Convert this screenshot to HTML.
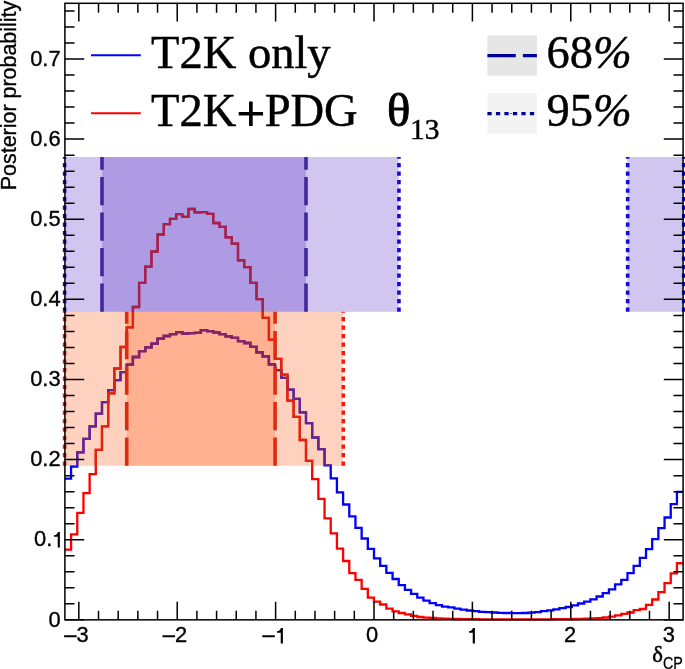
<!DOCTYPE html>
<html><head><meta charset="utf-8"><style>
html,body{margin:0;padding:0;background:#fff}
#c{position:relative;width:685px;height:669px;overflow:hidden;background:#fff;will-change:transform;font-family:"Liberation Sans",sans-serif;color:#000}
.tl{position:absolute;font-size:21.9px;line-height:24px;white-space:nowrap;-webkit-text-stroke:0.35px #000}
.lg{position:absolute;font-family:"Liberation Serif",serif;font-size:46.5px;line-height:50px;white-space:nowrap;-webkit-text-stroke:0.45px #000}
</style></head><body><div id="c">
<svg width="685" height="669" viewBox="0 0 685 669" style="position:absolute;left:0;top:0">
<rect width="685" height="669" fill="#fff"/>
<path d="M64.90 478.60H71.08V466.70H77.26V452.40H83.45V438.90H89.63V426.40H95.81V413.70H101.99V402.20H108.17V390.20H114.36V380.20H120.54V372.10H126.72V364.60H132.90V357.00H139.08V351.10H145.27V347.30H151.45V343.60H157.63V338.60H163.81V336.00H169.99V334.20H176.18V332.10H182.36V333.70H188.54V333.10H194.72V332.80H200.90V330.20H207.09V331.20H213.27V332.30H219.45V334.10H225.63V336.40H231.81V337.90H238.00V341.20H244.18V343.00H250.36V346.90H256.54V352.30H262.72V356.40H268.91V364.30H275.09V370.20H281.27V377.80H287.45V389.60H293.63V398.90H299.82V412.40H306.00V423.20H312.18V437.50H318.36V449.20H324.54V465.40H330.73V478.30H336.91V492.30H343.09V504.50H349.27V516.30H355.45V527.80H361.64V538.50H367.82V548.90H374.00V558.30H380.18V565.80H386.36V572.90H392.55V579.00H398.73V585.10H404.91V589.80H411.09V593.90H417.27V597.60H423.46V600.70H429.64V603.10H435.82V605.20H442.00V606.60H448.18V607.40H454.37V608.60H460.55V609.60H466.73V610.50H472.91V611.20H479.09V611.80H485.28V612.20H491.46V612.50H497.64V612.80H503.82V613.00H510.00V613.10H516.19V613.10H522.37V613.00H528.55V612.60H534.73V612.10H540.91V611.10H547.10V610.40H553.28V609.30H559.46V608.20H565.64V607.00H571.82V605.30H578.01V603.50H584.19V601.60H590.37V599.40H596.55V596.50H602.73V593.10H608.92V589.30H615.10V584.40H621.28V579.80H627.46V573.20H633.64V565.80H639.83V557.80H646.01V549.20H652.19V539.20H658.37V528.20H664.55V517.50H670.74V504.10H676.92V491.80H683.10" fill="none" stroke="#0000ff" stroke-width="2.3" stroke-linejoin="miter"/>
<path d="M64.90 549.60H71.08V534.35H77.26V512.90H83.45V493.20H89.63V474.10H95.81V449.90H101.99V426.40H108.17V393.30H114.36V368.50H120.54V347.00H126.72V327.40H132.90V307.00H139.08V282.90H145.27V266.70H151.45V251.50H157.63V234.50H163.81V224.10H169.99V218.80H176.18V214.20H182.36V216.90H188.54V209.00H194.72V212.30H200.90V212.20H207.09V213.80H213.27V223.00H219.45V226.80H225.63V237.30H231.81V243.60H238.00V260.30H244.18V267.20H250.36V282.90H256.54V299.10H262.72V317.90H268.91V339.60H275.09V358.90H281.27V374.70H287.45V400.70H293.63V416.90H299.82V440.00H306.00V460.90H312.18V479.20H318.36V498.90H324.54V518.30H330.73V533.30H336.91V548.60H343.09V561.00H349.27V573.20H355.45V579.80H361.64V588.90H367.82V597.60H374.00V601.60H380.18V604.50H386.36V608.60H392.55V611.40H398.73V613.00H404.91V614.30H411.09V615.90H417.27V617.00H423.46V617.60H429.64V618.00H435.82V618.40H442.00V618.70H448.18V618.90H454.37V619.00H460.55V619.10H466.73V619.20H472.91V619.20H479.09V619.30H485.28V619.30H491.46V619.30H497.64V619.30H503.82V619.30H510.00V619.30H516.19V619.30H522.37V619.30H528.55V619.30H534.73V619.30H540.91V619.30H547.10V619.30H553.28V619.20H559.46V619.20H565.64V619.10H571.82V619.00H578.01V618.90H584.19V618.70H590.37V618.50H596.55V618.20H602.73V617.50H608.92V616.60H615.10V615.30H621.28V613.80H627.46V612.50H633.64V610.10H639.83V609.00H646.01V604.80H652.19V599.50H658.37V592.10H664.55V583.20H670.74V573.30H676.92V563.25H683.10" fill="none" stroke="#ff0000" stroke-width="2.3" stroke-linejoin="miter"/>
<rect x="64.90" y="157.05" width="333.83" height="154.75" fill="rgba(70,28,190,0.25)"/>
<rect x="627.46" y="157.05" width="55.64" height="154.75" fill="rgba(70,28,190,0.25)"/>
<rect x="101.99" y="157.05" width="204.01" height="154.75" fill="rgba(70,28,190,0.25)"/>
<rect x="64.90" y="311.8" width="278.19" height="154.00" fill="rgba(255,88,24,0.27)"/>
<rect x="126.72" y="311.8" width="148.37" height="154.00" fill="rgba(255,88,24,0.27)"/>
<defs><clipPath id="cb"><rect x="101.99" y="157.05" width="204.01" height="154.75"/></clipPath><clipPath id="cr"><rect x="64.90" y="311.8" width="278.19" height="154.00"/></clipPath><clipPath id="crd"><rect x="126.72" y="311.8" width="148.37" height="154.00"/></clipPath></defs>
<path d="M64.90 478.60H71.08V466.70H77.26V452.40H83.45V438.90H89.63V426.40H95.81V413.70H101.99V402.20H108.17V390.20H114.36V380.20H120.54V372.10H126.72V364.60H132.90V357.00H139.08V351.10H145.27V347.30H151.45V343.60H157.63V338.60H163.81V336.00H169.99V334.20H176.18V332.10H182.36V333.70H188.54V333.10H194.72V332.80H200.90V330.20H207.09V331.20H213.27V332.30H219.45V334.10H225.63V336.40H231.81V337.90H238.00V341.20H244.18V343.00H250.36V346.90H256.54V352.30H262.72V356.40H268.91V364.30H275.09V370.20H281.27V377.80H287.45V389.60H293.63V398.90H299.82V412.40H306.00V423.20H312.18V437.50H318.36V449.20H324.54V465.40H330.73V478.30H336.91V492.30H343.09V504.50H349.27V516.30H355.45V527.80H361.64V538.50H367.82V548.90H374.00V558.30H380.18V565.80H386.36V572.90H392.55V579.00H398.73V585.10H404.91V589.80H411.09V593.90H417.27V597.60H423.46V600.70H429.64V603.10H435.82V605.20H442.00V606.60H448.18V607.40H454.37V608.60H460.55V609.60H466.73V610.50H472.91V611.20H479.09V611.80H485.28V612.20H491.46V612.50H497.64V612.80H503.82V613.00H510.00V613.10H516.19V613.10H522.37V613.00H528.55V612.60H534.73V612.10H540.91V611.10H547.10V610.40H553.28V609.30H559.46V608.20H565.64V607.00H571.82V605.30H578.01V603.50H584.19V601.60H590.37V599.40H596.55V596.50H602.73V593.10H608.92V589.30H615.10V584.40H621.28V579.80H627.46V573.20H633.64V565.80H639.83V557.80H646.01V549.20H652.19V539.20H658.37V528.20H664.55V517.50H670.74V504.10H676.92V491.80H683.10" fill="none" stroke="#6e2387" stroke-width="2.3" clip-path="url(#cr)"/>
<path d="M64.90 478.60H71.08V466.70H77.26V452.40H83.45V438.90H89.63V426.40H95.81V413.70H101.99V402.20H108.17V390.20H114.36V380.20H120.54V372.10H126.72V364.60H132.90V357.00H139.08V351.10H145.27V347.30H151.45V343.60H157.63V338.60H163.81V336.00H169.99V334.20H176.18V332.10H182.36V333.70H188.54V333.10H194.72V332.80H200.90V330.20H207.09V331.20H213.27V332.30H219.45V334.10H225.63V336.40H231.81V337.90H238.00V341.20H244.18V343.00H250.36V346.90H256.54V352.30H262.72V356.40H268.91V364.30H275.09V370.20H281.27V377.80H287.45V389.60H293.63V398.90H299.82V412.40H306.00V423.20H312.18V437.50H318.36V449.20H324.54V465.40H330.73V478.30H336.91V492.30H343.09V504.50H349.27V516.30H355.45V527.80H361.64V538.50H367.82V548.90H374.00V558.30H380.18V565.80H386.36V572.90H392.55V579.00H398.73V585.10H404.91V589.80H411.09V593.90H417.27V597.60H423.46V600.70H429.64V603.10H435.82V605.20H442.00V606.60H448.18V607.40H454.37V608.60H460.55V609.60H466.73V610.50H472.91V611.20H479.09V611.80H485.28V612.20H491.46V612.50H497.64V612.80H503.82V613.00H510.00V613.10H516.19V613.10H522.37V613.00H528.55V612.60H534.73V612.10H540.91V611.10H547.10V610.40H553.28V609.30H559.46V608.20H565.64V607.00H571.82V605.30H578.01V603.50H584.19V601.60H590.37V599.40H596.55V596.50H602.73V593.10H608.92V589.30H615.10V584.40H621.28V579.80H627.46V573.20H633.64V565.80H639.83V557.80H646.01V549.20H652.19V539.20H658.37V528.20H664.55V517.50H670.74V504.10H676.92V491.80H683.10" fill="none" stroke="#872364" stroke-width="2.3" clip-path="url(#crd)"/>
<path d="M64.90 549.60H71.08V534.35H77.26V512.90H83.45V493.20H89.63V474.10H95.81V449.90H101.99V426.40H108.17V393.30H114.36V368.50H120.54V347.00H126.72V327.40H132.90V307.00H139.08V282.90H145.27V266.70H151.45V251.50H157.63V234.50H163.81V224.10H169.99V218.80H176.18V214.20H182.36V216.90H188.54V209.00H194.72V212.30H200.90V212.20H207.09V213.80H213.27V223.00H219.45V226.80H225.63V237.30H231.81V243.60H238.00V260.30H244.18V267.20H250.36V282.90H256.54V299.10H262.72V317.90H268.91V339.60H275.09V358.90H281.27V374.70H287.45V400.70H293.63V416.90H299.82V440.00H306.00V460.90H312.18V479.20H318.36V498.90H324.54V518.30H330.73V533.30H336.91V548.60H343.09V561.00H349.27V573.20H355.45V579.80H361.64V588.90H367.82V597.60H374.00V601.60H380.18V604.50H386.36V608.60H392.55V611.40H398.73V613.00H404.91V614.30H411.09V615.90H417.27V617.00H423.46V617.60H429.64V618.00H435.82V618.40H442.00V618.70H448.18V618.90H454.37V619.00H460.55V619.10H466.73V619.20H472.91V619.20H479.09V619.30H485.28V619.30H491.46V619.30H497.64V619.30H503.82V619.30H510.00V619.30H516.19V619.30H522.37V619.30H528.55V619.30H534.73V619.30H540.91V619.30H547.10V619.30H553.28V619.20H559.46V619.20H565.64V619.10H571.82V619.00H578.01V618.90H584.19V618.70H590.37V618.50H596.55V618.20H602.73V617.50H608.92V616.60H615.10V615.30H621.28V613.80H627.46V612.50H633.64V610.10H639.83V609.00H646.01V604.80H652.19V599.50H658.37V592.10H664.55V583.20H670.74V573.30H676.92V563.25H683.10" fill="none" stroke="#de260e" stroke-width="2.3" clip-path="url(#cr)"/>
<path d="M64.90 549.60H71.08V534.35H77.26V512.90H83.45V493.20H89.63V474.10H95.81V449.90H101.99V426.40H108.17V393.30H114.36V368.50H120.54V347.00H126.72V327.40H132.90V307.00H139.08V282.90H145.27V266.70H151.45V251.50H157.63V234.50H163.81V224.10H169.99V218.80H176.18V214.20H182.36V216.90H188.54V209.00H194.72V212.30H200.90V212.20H207.09V213.80H213.27V223.00H219.45V226.80H225.63V237.30H231.81V243.60H238.00V260.30H244.18V267.20H250.36V282.90H256.54V299.10H262.72V317.90H268.91V339.60H275.09V358.90H281.27V374.70H287.45V400.70H293.63V416.90H299.82V440.00H306.00V460.90H312.18V479.20H318.36V498.90H324.54V518.30H330.73V533.30H336.91V548.60H343.09V561.00H349.27V573.20H355.45V579.80H361.64V588.90H367.82V597.60H374.00V601.60H380.18V604.50H386.36V608.60H392.55V611.40H398.73V613.00H404.91V614.30H411.09V615.90H417.27V617.00H423.46V617.60H429.64V618.00H435.82V618.40H442.00V618.70H448.18V618.90H454.37V619.00H460.55V619.10H466.73V619.20H472.91V619.20H479.09V619.30H485.28V619.30H491.46V619.30H497.64V619.30H503.82V619.30H510.00V619.30H516.19V619.30H522.37V619.30H528.55V619.30H534.73V619.30H540.91V619.30H547.10V619.30H553.28V619.20H559.46V619.20H565.64V619.10H571.82V619.00H578.01V618.90H584.19V618.70H590.37V618.50H596.55V618.20H602.73V617.50H608.92V616.60H615.10V615.30H621.28V613.80H627.46V612.50H633.64V610.10H639.83V609.00H646.01V604.80H652.19V599.50H658.37V592.10H664.55V583.20H670.74V573.30H676.92V563.25H683.10" fill="none" stroke="#a5234b" stroke-width="2.3" clip-path="url(#cb)"/>
<path d="M101.99 311.8V157.05" stroke="#43259d" stroke-width="3.6" stroke-dasharray="28.4 7.1" fill="none"/>
<path d="M306.00 311.8V157.05" stroke="#43259d" stroke-width="3.6" stroke-dasharray="28.4 7.1" fill="none"/>
<path d="M126.72 465.8V311.8" stroke="#e02a10" stroke-width="3.6" stroke-dasharray="28.4 7.1" fill="none"/>
<path d="M275.09 465.8V311.8" stroke="#e02a10" stroke-width="3.6" stroke-dasharray="28.4 7.1" fill="none"/>
<path d="M64.60 311.8V157.05" stroke="#1408dc" stroke-width="3.6" stroke-dasharray="4.25 4.25" fill="none"/>
<path d="M683.70 311.8V157.05" stroke="#1408dc" stroke-width="3.6" stroke-dasharray="4.25 4.25" fill="none"/>
<path d="M64.60 465.8V311.8" stroke="#ee1c10" stroke-width="3.6" stroke-dasharray="4.25 4.25" fill="none"/>
<rect x="64.9" y="3.3" width="618.20" height="616.55" fill="none" stroke="#000" stroke-width="1.5"/>
<path d="M78.83 619.85v-18.0M78.83 3.3v18.3M98.51 619.85v-9.2M98.51 3.3v9.5M118.19 619.85v-9.2M118.19 3.3v9.5M137.86 619.85v-9.2M137.86 3.3v9.5M157.54 619.85v-9.2M157.54 3.3v9.5M177.22 619.85v-18.0M177.22 3.3v18.3M196.90 619.85v-9.2M196.90 3.3v9.5M216.58 619.85v-9.2M216.58 3.3v9.5M236.25 619.85v-9.2M236.25 3.3v9.5M255.93 619.85v-9.2M255.93 3.3v9.5M275.61 619.85v-18.0M275.61 3.3v18.3M295.29 619.85v-9.2M295.29 3.3v9.5M314.97 619.85v-9.2M314.97 3.3v9.5M334.64 619.85v-9.2M334.64 3.3v9.5M354.32 619.85v-9.2M354.32 3.3v9.5M374.00 619.85v-18.0M374.00 3.3v18.3M393.68 619.85v-9.2M393.68 3.3v9.5M413.36 619.85v-9.2M413.36 3.3v9.5M433.03 619.85v-9.2M433.03 3.3v9.5M452.71 619.85v-9.2M452.71 3.3v9.5M472.39 619.85v-18.0M472.39 3.3v18.3M492.07 619.85v-9.2M492.07 3.3v9.5M511.75 619.85v-9.2M511.75 3.3v9.5M531.42 619.85v-9.2M531.42 3.3v9.5M551.10 619.85v-9.2M551.10 3.3v9.5M570.78 619.85v-18.0M570.78 3.3v18.3M590.46 619.85v-9.2M590.46 3.3v9.5M610.14 619.85v-9.2M610.14 3.3v9.5M629.81 619.85v-9.2M629.81 3.3v9.5M649.49 619.85v-9.2M649.49 3.3v9.5M669.17 619.85v-18.0M669.17 3.3v18.3M64.9 619.85h19.3M683.10 619.85h-19.3M64.9 603.83h9.6M683.10 603.83h-9.6M64.9 587.80h9.6M683.10 587.80h-9.6M64.9 571.78h9.6M683.10 571.78h-9.6M64.9 555.75h9.6M683.10 555.75h-9.6M64.9 539.73h19.3M683.10 539.73h-19.3M64.9 523.70h9.6M683.10 523.70h-9.6M64.9 507.68h9.6M683.10 507.68h-9.6M64.9 491.65h9.6M683.10 491.65h-9.6M64.9 475.63h9.6M683.10 475.63h-9.6M64.9 459.60h19.3M683.10 459.60h-19.3M64.9 443.58h9.6M683.10 443.58h-9.6M64.9 427.55h9.6M683.10 427.55h-9.6M64.9 411.53h9.6M683.10 411.53h-9.6M64.9 395.50h9.6M683.10 395.50h-9.6M64.9 379.48h19.3M683.10 379.48h-19.3M64.9 363.45h9.6M683.10 363.45h-9.6M64.9 347.43h9.6M683.10 347.43h-9.6M64.9 331.40h9.6M683.10 331.40h-9.6M64.9 315.38h9.6M683.10 315.38h-9.6M64.9 299.35h19.3M683.10 299.35h-19.3M64.9 283.33h9.6M683.10 283.33h-9.6M64.9 267.30h9.6M683.10 267.30h-9.6M64.9 251.28h9.6M683.10 251.28h-9.6M64.9 235.25h9.6M683.10 235.25h-9.6M64.9 219.23h19.3M683.10 219.23h-19.3M64.9 203.21h9.6M683.10 203.21h-9.6M64.9 187.18h9.6M683.10 187.18h-9.6M64.9 171.16h9.6M683.10 171.16h-9.6M64.9 155.13h9.6M683.10 155.13h-9.6M64.9 139.11h19.3M683.10 139.11h-19.3M64.9 123.08h9.6M683.10 123.08h-9.6M64.9 107.06h9.6M683.10 107.06h-9.6M64.9 91.03h9.6M683.10 91.03h-9.6M64.9 75.01h9.6M683.10 75.01h-9.6M64.9 58.98h19.3M683.10 58.98h-19.3M64.9 42.96h9.6M683.10 42.96h-9.6M64.9 26.93h9.6M683.10 26.93h-9.6M64.9 10.91h9.6M683.10 10.91h-9.6" stroke="#000" stroke-width="1.5" fill="none"/>
<path d="M398.93 311.8V157.05" stroke="#1408dc" stroke-width="3.6" stroke-dasharray="4.25 4.25" fill="none"/>
<path d="M627.66 311.8V157.05" stroke="#1408dc" stroke-width="3.6" stroke-dasharray="4.25 4.25" fill="none"/>
<path d="M343.29 465.8V311.8" stroke="#ee1c10" stroke-width="3.6" stroke-dasharray="4.25 4.25" fill="none"/>
<path d="M91 55.3H140.8" stroke="#0000ff" stroke-width="2"/>
<path d="M91 113.2H140.8" stroke="#ff0000" stroke-width="2"/>
<rect x="487.4" y="35.3" width="49.5" height="40.4" fill="#e6e6e6"/>
<rect x="487.4" y="93.1" width="49.5" height="40.5" fill="#f3f3f3"/>
<path d="M487.4 55.7H536.9" stroke="#000099" stroke-width="3.3" stroke-dasharray="28.4 7.1"/>
<path d="M487.4 113.6H536.9" stroke="#000099" stroke-width="3.3" stroke-dasharray="4.25 4.25"/>
<rect x="510.3" y="55.2" width="1.2" height="1" fill="#000"/><rect x="510.3" y="113.1" width="1.2" height="1" fill="#000"/>
</svg>
<div class="tl" style="right:624.4px;top:607.6px">0</div><div class="tl" style="right:624.4px;top:527.4px">0.<svg width="5.9" height="15.6" viewBox="0 0 5.9 15.6" style="display:inline-block;margin:0 0.3px 0 2.1px;overflow:visible;position:relative;top:1px"><path d="M3.85 0H5.9V15.6H3.75V4.85H0V3.25C2.2 3.15 3.4 2.1 3.85 0Z" fill="#000"/></svg></div><div class="tl" style="right:624.4px;top:447.3px">0.2</div><div class="tl" style="right:624.4px;top:367.2px">0.3</div><div class="tl" style="right:624.4px;top:287.1px">0.4</div><div class="tl" style="right:624.4px;top:206.9px">0.5</div><div class="tl" style="right:624.4px;top:126.8px">0.6</div><div class="tl" style="right:624.4px;top:46.7px">0.7</div><div class="tl xc" id="xl0" style="left:46.55px;top:623.1px;width:60px;text-align:center">–3</div><div class="tl xc" id="xl1" style="left:144.90px;top:623.1px;width:60px;text-align:center">–2</div><div class="tl xc" id="xl2" style="left:244.35px;top:623.1px;width:60px;text-align:center">–<svg width="5.9" height="15.6" viewBox="0 0 5.9 15.6" style="display:inline-block;margin:0 3.4px 0 2.3px;overflow:visible;position:relative;top:1px"><path d="M3.85 0H5.9V15.6H3.75V4.85H0V3.25C2.2 3.15 3.4 2.1 3.85 0Z" fill="#000"/></svg></div><div class="tl xc" id="xl3" style="left:342.20px;top:623.1px;width:60px;text-align:center">0</div><div class="tl xc" id="xl4" style="left:442.45px;top:623.1px;width:60px;text-align:center"><svg width="5.9" height="15.6" viewBox="0 0 5.9 15.6" style="display:inline-block;margin:0 3.4px 0 2.3px;overflow:visible;position:relative;top:1px"><path d="M3.85 0H5.9V15.6H3.75V4.85H0V3.25C2.2 3.15 3.4 2.1 3.85 0Z" fill="#000"/></svg></div><div class="tl xc" id="xl5" style="left:540.20px;top:623.1px;width:60px;text-align:center">2</div><div class="tl xc" id="xl6" style="left:638.80px;top:623.1px;width:60px;text-align:center">3</div>
<div class="tl" id="yt" style="left:0;top:0;transform-origin:0 0;transform:translate(-2.9px,190.2px) rotate(-90deg);font-size:21.45px">Posterior probability</div>
<div class="lg" id="l1" style="left:151.1px;top:27.8px">T2K only</div>
<div class="lg" id="l2" style="left:151.1px;top:85.6px">T2K<span style="font-size:50px;line-height:0;position:relative;top:5.4px;margin:0 -0.3px 0 0.4px;-webkit-text-stroke:1.1px #000">+</span>PDG</div>
<div class="lg" id="l3" style="left:386.6px;top:86.1px"><span style="display:inline-block;transform-origin:0 50%;transform:scaleX(1.05);-webkit-text-stroke:0.9px #000">&#952;</span><span style="font-size:29.5px;position:relative;top:13.4px;left:1.2px">13</span></div>
<div class="lg" id="l4" style="left:546.5px;top:27.8px">68<i>%</i></div>
<div class="lg" id="l5" style="left:546.5px;top:85.9px">95<i>%</i></div>
<div class="lg" id="xt" style="left:652.3px;top:641.6px;font-size:22.6px;line-height:26px;-webkit-text-stroke:0.5px #000">&#948;<span style="display:inline-block;transform-origin:0 50%;transform:scaleX(0.88);font-family:'Liberation Sans',sans-serif;font-size:16.3px;position:relative;top:7.4px;left:0.2px;-webkit-text-stroke:0.3px #000">CP</span></div>
</div></body></html>
